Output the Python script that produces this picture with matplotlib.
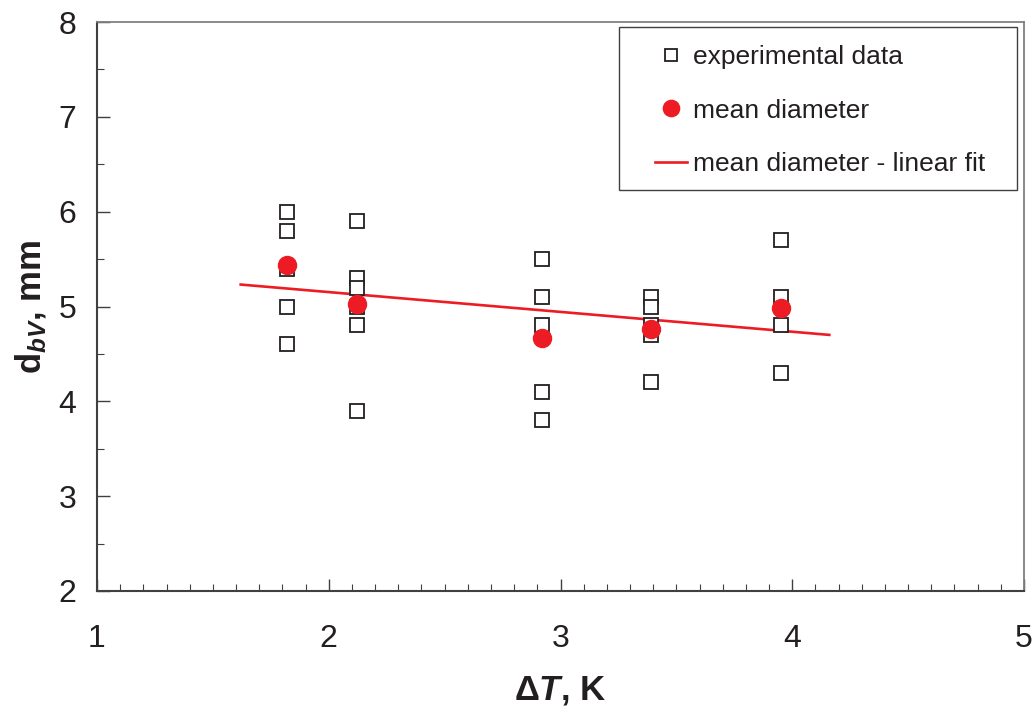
import numpy as np
import matplotlib
matplotlib.use("Agg")
import matplotlib.pyplot as plt
from matplotlib.ticker import MultipleLocator
from matplotlib.patches import Rectangle

plt.rcParams['font.family'] = ['Liberation Sans', 'DejaVu Sans']
plt.rcParams['mathtext.fontset'] = 'custom'
plt.rcParams['mathtext.rm'] = 'Liberation Sans:bold'
plt.rcParams['mathtext.it'] = 'Liberation Sans:bold:italic'
plt.rcParams['mathtext.bf'] = 'Liberation Sans:bold'

# experimental data, grouped by temperature difference
dT_groups = [1.82, 2.12, 2.92, 3.39, 3.95]
d_groups = [
    [6.0, 5.8, 5.4, 5.0, 4.6],
    [5.9, 5.3, 5.2, 5.0, 4.8, 3.9],
    [5.5, 5.1, 4.8, 4.1, 3.8],
    [5.1, 5.0, 4.8, 4.7, 4.2],
    [5.7, 5.1, 4.8, 4.3],
]
d_mean = [5.44, 5.03, 4.67, 4.76, 4.98]

# linear fit of the mean diameter
fit_slope = -0.209
fit_intercept = 5.57
fit_range = [1.62, 4.16]

red = '#ED1C24'
ink = '#231f20'

fig = plt.figure(figsize=(10.35, 7.07), dpi=100)
ax = fig.add_axes([97/1035, 1-591/707, (1024-97)/1035, (591-22)/707])

xs = []
ys = []
for x, vals in zip(dT_groups, d_groups):
    xs += [x]*len(vals)
    ys += vals
ax.plot(xs, ys, linestyle='none', marker='s', markersize=9.5, markerfacecolor='white',
        markeredgecolor=ink, markeredgewidth=1.3, label='experimental data', zorder=3)
ax.plot(dT_groups, d_mean, linestyle='none', marker='o', markersize=13, color=red,
        label='mean diameter', zorder=4)
xf = np.array(fit_range)
ax.plot(xf, fit_slope*xf + fit_intercept, color=red, linewidth=1.9,
        label='mean diameter - linear fit', zorder=2)

ax.set_xlim(1, 5)
ax.set_ylim(2, 8)
ax.xaxis.set_major_locator(MultipleLocator(1))
ax.xaxis.set_minor_locator(MultipleLocator(0.1))
ax.yaxis.set_major_locator(MultipleLocator(1))
ax.yaxis.set_minor_locator(MultipleLocator(0.5))
ax.tick_params(which='both', direction='in', top=False, right=False, color='#404040')
ax.tick_params(which='major', length=9, width=1.0, labelsize=23, labelcolor=ink)
ax.tick_params(which='minor', length=5, width=0.8)
ax.tick_params(axis='x', which='major', pad=24)
ax.tick_params(axis='y', which='major', pad=15)
for side in ['top', 'right']:
    ax.spines[side].set_color('#808080')
    ax.spines[side].set_linewidth(1.3)
for side in ['left', 'bottom']:
    ax.spines[side].set_color('#404040')
    ax.spines[side].set_linewidth(1.5)

ax.set_xlabel(r'$\Delta\mathit{T}$, K', fontsize=25, fontweight='bold', color=ink, labelpad=14)
ax.set_ylabel(r'd$_{\mathit{bV}}$, mm', fontsize=25, fontweight='bold', color=ink, labelpad=7)

# legend box drawn by hand, legend entries placed inside it
box = Rectangle((0.5631, 0.7047), 0.9925-0.5631, 0.9912-0.7047, transform=ax.transAxes,
                facecolor='white', edgecolor='#404040', linewidth=1.0, zorder=5)
ax.add_patch(box)
leg = ax.legend(loc='upper left', bbox_to_anchor=(0.602, 0.960), fontsize=19, frameon=False,
                labelspacing=1.13, handlelength=1.2, handletextpad=0.25, borderpad=0,
                borderaxespad=0, markerscale=0.9)
leg.set_zorder(6)
for t in leg.get_texts():
    t.set_color(ink)

fig.savefig('out.png', dpi=100)
